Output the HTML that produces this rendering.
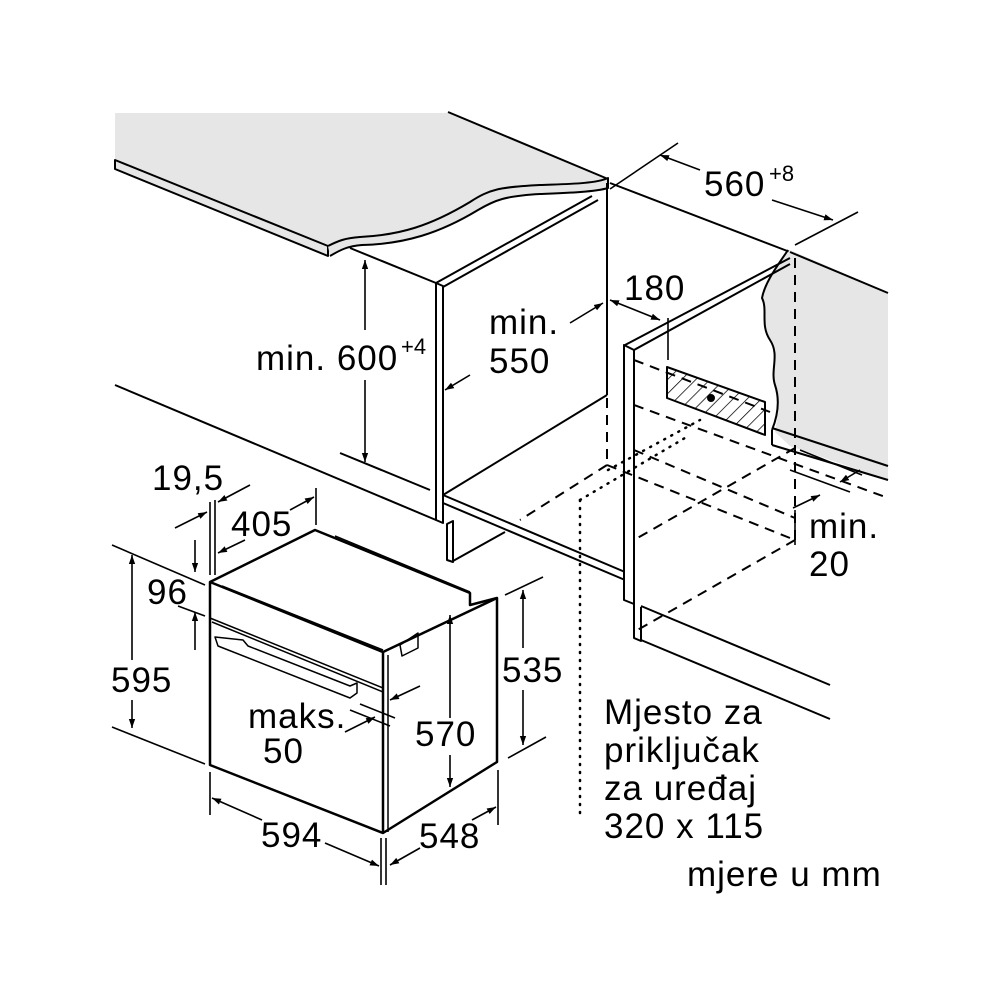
<!DOCTYPE html>
<html><head><meta charset="utf-8"><style>
html,body{margin:0;padding:0;background:#fff;}
svg{display:block;}
text{font-family:"Liberation Sans",sans-serif;font-size:35px;letter-spacing:1px;fill:#000;}
.sup{font-size:22px;letter-spacing:0;}
</style></head><body>
<svg width="1000" height="1000" viewBox="0 0 1000 1000" xmlns="http://www.w3.org/2000/svg">
<defs>
<marker id="a" viewBox="0 0 10 10" refX="10" refY="5" markerWidth="9" markerHeight="9" orient="auto-start-reverse" markerUnits="userSpaceOnUse"><path d="M0,1.5 L10,5 L0,8.5 z" fill="#000"/></marker>
<pattern id="h" width="10" height="10" patternUnits="userSpaceOnUse" patternTransform="rotate(45)"><line x1="0" y1="0" x2="0" y2="10" stroke="#000" stroke-width="1.5"/></pattern>
</defs>
<g stroke="#000" stroke-width="2" fill="none" stroke-linejoin="round">
<!-- countertop -->
<path d="M115,113 L448,113 L608,180 C590,186 560,185 540,186 C500,188 490,190 470,203 C430,228 400,236 360,238 C345,240 338,242 328,248 L115,160 Z" fill="#e6e6e6" stroke="none"/>
<path d="M115,160 L328,246 L328,256 L115,169 Z" fill="#e6e6e6"/>
<path d="M328,246 C338,241 345,238 360,237 C400,235 430,226 470,202 C490,189 500,187 540,185 C565,184 595,184 608,178 L608,188 C595,192 565,193 540,194 C505,196 495,200 478,210 C440,233 405,244 362,245 C348,246 340,250 330,256" fill="#e6e6e6"/>
<line x1="448" y1="112" x2="608" y2="179"/>
<!-- left cabinet -->
<line x1="350" y1="248" x2="436" y2="283"/>
<path d="M436,283 L436,520 L443,523 L443,286 Z" fill="#fff"/>
<line x1="436" y1="283" x2="592" y2="196"/><line x1="443" y1="287" x2="598" y2="200"/>
<line x1="607" y1="183" x2="607" y2="395"/>
<line x1="443" y1="495" x2="607" y2="395"/>
<line x1="443" y1="495" x2="625" y2="572"/><line x1="443" y1="503" x2="625" y2="580"/>
<line x1="115" y1="385" x2="436" y2="520"/>
<line x1="340" y1="453" x2="430" y2="490"/>
<path d="M447,524 L453,521 L453,562 L447,560 Z"/>
<line x1="453" y1="561" x2="505" y2="532"/>
<!-- right wall -->
<line x1="610" y1="183" x2="790" y2="252"/>
<path d="M790,250 L888,292 L888,480 L790,446 L775,432 C778,415 780,400 775,385 C770,370 780,355 770,340 C760,325 768,310 762,298 C765,282 775,265 790,250 Z" fill="#e6e6e6" stroke="none"/>
<line x1="790" y1="252" x2="888" y2="293"/>
<path d="M788,250 C778,265 765,282 762,298 C768,310 760,325 770,340 C780,355 770,370 775,385 C780,400 778,415 772,430"/>
<line x1="772" y1="430" x2="772" y2="445"/>
<line x1="772" y1="428" x2="888" y2="466"/>
<line x1="772" y1="445" x2="888" y2="480"/>
<line x1="790" y1="258" x2="625" y2="345"/><line x1="790" y1="264" x2="634" y2="350"/>
<path d="M624,345 L624,600 L634,604 L634,350 Z" fill="#fff"/>
<path d="M634,604 L634,638 L641,641 L641,607"/>
<line x1="641" y1="606" x2="830" y2="685"/>
<line x1="641" y1="640" x2="830" y2="719"/>
<!-- hatched -->
<path d="M667,367 L667,398 L765,435 L765,402 Z" fill="url(#h)"/>
<circle cx="711" cy="398" r="3" fill="#000"/>
</g>
<g stroke="#000" stroke-width="2" fill="none" stroke-dasharray="10,7">
<line x1="607" y1="398" x2="607" y2="465"/>
<line x1="607" y1="465" x2="520" y2="520"/>
<line x1="607" y1="465" x2="795" y2="540"/>
<line x1="795" y1="258" x2="795" y2="540"/>
<line x1="634" y1="360" x2="770" y2="412"/>
<line x1="634" y1="405" x2="888" y2="498"/>
<line x1="795" y1="448" x2="634" y2="540"/>
<line x1="795" y1="540" x2="634" y2="632"/>
<line x1="634" y1="450" x2="795" y2="518"/>
</g>
<g stroke="#000" stroke-width="2.5" fill="none" stroke-dasharray="1,7" stroke-linecap="round">
<line x1="580" y1="500" x2="580" y2="820"/>
<line x1="580" y1="500" x2="690" y2="435"/>
<line x1="608" y1="470" x2="700" y2="420"/>
</g>
<!-- oven -->
<g stroke="#000" stroke-width="2.5" fill="none" stroke-linejoin="round">
<path d="M210,582 L315,530 L470,593 L470,605 L497,598 L497,762 L383,833 L210,765 Z" fill="#fff"/>
<line x1="210" y1="582" x2="383" y2="652"/>
<line x1="383" y1="652" x2="383" y2="833"/>
<line x1="383" y1="652" x2="497" y2="598"/>
<line x1="222" y1="586" x2="383" y2="650" stroke-width="1.5"/>
<line x1="210" y1="618" x2="383" y2="688" stroke-width="1.5"/>
<line x1="212" y1="622" x2="383" y2="692" stroke-width="1.5"/>
<line x1="388" y1="655" x2="388" y2="832" stroke-width="1.5"/>
<line x1="335" y1="536" x2="470" y2="592" stroke-width="1.5"/>
<path d="M215,637 L243,640 L248,646 L350,686 L357,683 L357,693 L350,698 L218,646 Z" stroke-width="1.5"/>
<path d="M400,645 L418,633 L418,648 L402,656 Z" stroke-width="1.5"/>
</g>
<!-- dimension lines -->
<g stroke="#000" stroke-width="1.6" fill="none">
<line x1="365" y1="260" x2="365" y2="330" marker-start="url(#a)"/>
<line x1="365" y1="380" x2="365" y2="462" marker-end="url(#a)"/>
<line x1="470" y1="375" x2="445" y2="390" marker-end="url(#a)"/>
<line x1="570" y1="323" x2="603" y2="303" marker-end="url(#a)"/>
<line x1="610" y1="300" x2="660" y2="320" marker-start="url(#a)" marker-end="url(#a)"/>
<line x1="668" y1="318" x2="668" y2="360"/>
<line x1="610" y1="189" x2="678" y2="143"/>
<line x1="795" y1="245" x2="858" y2="212"/>
<line x1="660" y1="155" x2="700" y2="170" marker-start="url(#a)"/>
<line x1="772" y1="200" x2="833" y2="220" marker-end="url(#a)"/>
<line x1="800" y1="450" x2="862" y2="475"/>
<line x1="790" y1="470" x2="850" y2="492"/>
<line x1="860" y1="470" x2="840" y2="482" marker-end="url(#a)"/>
<line x1="793" y1="508" x2="820" y2="495" marker-end="url(#a)"/>
<line x1="795" y1="510" x2="795" y2="545"/>
<line x1="210" y1="502" x2="210" y2="575"/><line x1="215" y1="500" x2="215" y2="575"/>
<line x1="250" y1="485" x2="218" y2="502" marker-end="url(#a)"/>
<line x1="175" y1="528" x2="207" y2="512" marker-end="url(#a)"/>
<line x1="316" y1="488" x2="316" y2="525"/>
<line x1="290" y1="510" x2="314" y2="497" marker-end="url(#a)"/>
<line x1="245" y1="540" x2="218" y2="553" marker-end="url(#a)"/>
<line x1="195" y1="540" x2="195" y2="572" marker-end="url(#a)"/>
<line x1="195" y1="650" x2="195" y2="612" marker-end="url(#a)"/>
<line x1="178" y1="606" x2="205" y2="616"/>
<line x1="112" y1="545" x2="205" y2="585"/>
<line x1="112" y1="727" x2="205" y2="764"/>
<line x1="132" y1="555" x2="132" y2="660" marker-start="url(#a)"/>
<line x1="132" y1="700" x2="132" y2="728" marker-end="url(#a)"/>
<line x1="390" y1="700" x2="420" y2="686" marker-start="url(#a)"/>
<line x1="360" y1="704" x2="395" y2="718"/>
<line x1="350" y1="710" x2="390" y2="726"/>
<line x1="345" y1="732" x2="375" y2="717" marker-end="url(#a)"/>
<line x1="450" y1="615" x2="450" y2="718" marker-start="url(#a)"/>
<line x1="450" y1="755" x2="450" y2="787" marker-end="url(#a)"/>
<line x1="505" y1="595" x2="543" y2="577"/>
<line x1="508" y1="758" x2="546" y2="737"/>
<line x1="523" y1="590" x2="523" y2="648" marker-start="url(#a)"/>
<line x1="523" y1="690" x2="523" y2="745" marker-end="url(#a)"/>
<line x1="210" y1="772" x2="210" y2="815"/>
<line x1="381" y1="838" x2="381" y2="885"/><line x1="386" y1="838" x2="386" y2="885"/>
<line x1="498" y1="770" x2="498" y2="825"/>
<line x1="212" y1="798" x2="262" y2="820" marker-start="url(#a)"/>
<line x1="325" y1="843" x2="379" y2="866" marker-end="url(#a)"/>
<line x1="390" y1="865" x2="420" y2="848" marker-start="url(#a)"/>
<line x1="472" y1="820" x2="496" y2="807" marker-end="url(#a)"/>
</g>
<!-- text -->
<text x="256" y="370">min. 600</text><text x="401" y="354" class="sup">+4</text>
<text x="489" y="334">min.</text><text x="489" y="373">550</text>
<text x="624" y="300">180</text>
<text x="704" y="196">560</text><text x="769" y="181" class="sup">+8</text>
<text x="809" y="538">min.</text><text x="809" y="576">20</text>
<text x="152" y="490">19,5</text>
<text x="231" y="536">405</text>
<text x="147" y="604">96</text>
<text x="111" y="692">595</text>
<text x="248" y="728">maks.</text><text x="263" y="763">50</text>
<text x="415" y="746">570</text>
<text x="502" y="682">535</text>
<text x="261" y="847">594</text>
<text x="419" y="848">548</text>
<text x="604" y="724">Mjesto za</text>
<text x="604" y="762">priključak</text>
<text x="604" y="800">za uređaj</text>
<text x="604" y="838">320 x 115</text>
<text x="687" y="886">mjere u mm</text>
</svg>
</body></html>
